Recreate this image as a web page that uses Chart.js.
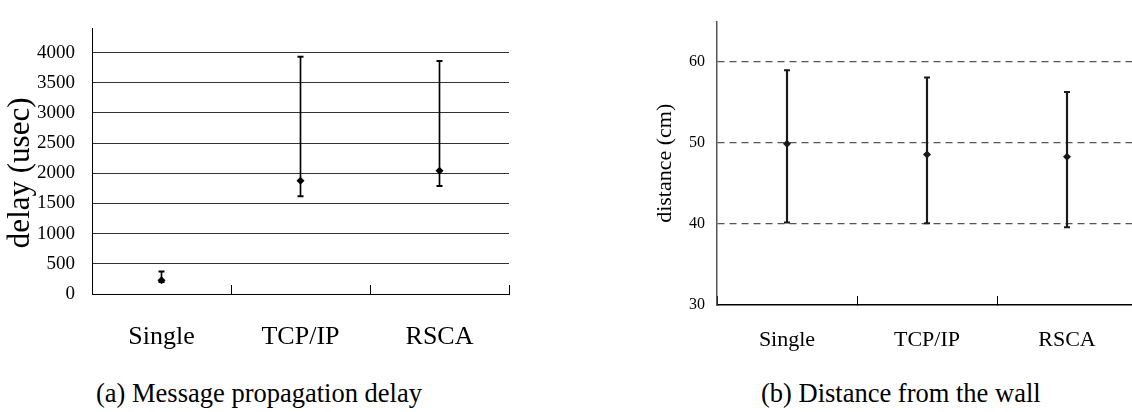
<!DOCTYPE html>
<html lang="en">
  <head>
    <meta charset="UTF-8" />
    <title>delay / distance</title>
    <style>
      body {
        margin: 0;
        width: 1132px;
        height: 412px;
        overflow: hidden;
        background: #fff;
        position: relative;
        font-family: "Liberation Serif", serif;
      }
      .box {
        position: absolute;
        top: 0;
        height: 360px;
      }
      #box_a {
        left: 0;
        width: 560px;
      }
      #box_b {
        left: 560px;
        width: 600px;
      }
      .caption {
        position: absolute;
        top: 380px;
        font-size: 26.5px;
        line-height: 26px;
        white-space: nowrap;
        color: #000;
      }
    </style>
  </head>
  <body>
    <div class="box" id="box_a"><canvas id="chart_a"></canvas></div>
    <div class="box" id="box_b"><canvas id="chart_b"></canvas></div>
    <div class="caption" style="left: 96px">(a) Message propagation delay</div>
    <div class="caption" style="left: 761px">(b) Distance from the wall</div>
  </body>
  <script src="https://cdn.jsdelivr.net/npm/chart.js"></script>
  <script>
    const labels = ["Single", "TCP/IP", "RSCA"];

    // (a) delay (usec)
    const delayMean = [228, 1878, 2043];
    const delayHigh = [371, 3932, 3860];
    const delayLow = [200, 1621, 1791];
    const delayTicks = [0, 500, 1000, 1500, 2000, 2500, 3000, 3500, 4000];

    // (b) distance (cm)
    const distMean = [49.9, 48.6, 48.3];
    const distHigh = [59.0, 58.1, 56.3];
    const distLow = [40.2, 40.1, 39.6];
    const distTicks = [30, 40, 50, 60];

    const serif = "'Liberation Serif', 'Times New Roman', serif";

    const errorSets = (mean, low, high, color, thick) => [
      {
        type: "line",
        data: mean,
        showLine: false,
        pointStyle: "rectRot",
        pointRadius: 4,
        pointBackgroundColor: color,
        pointBorderColor: color,
        pointBorderWidth: 0,
      },
      {
        type: "line",
        data: high,
        showLine: false,
        pointStyle: "line",
        pointRadius: 3,
        pointBorderColor: color,
        pointBorderWidth: 2,
      },
      {
        type: "line",
        data: low,
        showLine: false,
        pointStyle: "line",
        pointRadius: 3,
        pointBorderColor: color,
        pointBorderWidth: 2,
      },
      {
        type: "bar",
        data: low.map((l, i) => [l, high[i]]),
        backgroundColor: color,
        borderWidth: 0,
        barThickness: thick,
      },
    ];

    // (a)
    new Chart(document.getElementById("chart_a"), {
      type: "bar",
      data: {
        labels: labels,
        datasets: errorSets(delayMean, delayLow, delayHigh, "#000", 1),
      },
      options: {
        responsive: true,
        maintainAspectRatio: false,
        animation: false,
        layout: { padding: { top: 10, right: 51, left: 0, bottom: 0 } },
        plugins: { legend: { display: false }, tooltip: { enabled: false } },
        scales: {
          x: {
            offset: true,
            grid: { offset: true, drawOnChartArea: false, drawTicks: true, tickLength: -9, tickColor: "#000" },
            border: { color: "#000", width: 1 },
            ticks: { color: "#000", font: { family: serif, size: 26 }, padding: 37 },
            afterFit: (s) => { s.height = 66; },
          },
          y: {
            min: 0,
            max: 4400,
            ticks: { color: "#000", font: { family: serif, size: 19 }, padding: 17, callback: (v) => String(v) },
            afterBuildTicks: (s) => { s.ticks = delayTicks.map((v) => ({ value: v })); },
            grid: {
              drawTicks: false,
              color: (c) => (c.tick && c.tick.value === 0 ? "rgba(0,0,0,0)" : "#333"),
            },
            border: { color: "#000", width: 1 },
            // trailing spaces push the title a little lower, as in the original
            title: { display: true, text: "delay (usec)   ", color: "#000", font: { family: serif, size: 31 }, padding: { top: 2, bottom: 0 } },
            afterFit: (s) => { s.width = 92; },
          },
        },
      },
    });

    // (b)
    new Chart(document.getElementById("chart_b"), {
      type: "bar",
      data: {
        labels: labels,
        datasets: errorSets(distMean, distLow, distHigh, "#1a1a1a", 1.5),
      },
      options: {
        responsive: true,
        maintainAspectRatio: false,
        animation: false,
        layout: { padding: { top: 7, right: 23, left: 0, bottom: 0 } },
        plugins: { legend: { display: false }, tooltip: { enabled: false } },
        scales: {
          x: {
            offset: true,
            grid: { offset: true, drawOnChartArea: false, drawTicks: true, tickLength: -9, tickColor: "#000" },
            border: { color: "#000", width: 1.5 },
            ticks: { color: "#000", font: { family: serif, size: 22 }, padding: 31 },
            afterFit: (s) => { s.height = 55; },
          },
          y: {
            min: 30,
            max: 65,
            ticks: { color: "#000", font: { family: serif, size: 16 }, padding: 12, callback: (v) => String(v) },
            afterBuildTicks: (s) => { s.ticks = distTicks.map((v) => ({ value: v })); },
            grid: {
              drawTicks: false,
              color: (c) => (c.tick && c.tick.value === 30 ? "rgba(0,0,0,0)" : "#555"),
              lineWidth: 1.2,
            },
            border: { color: "#555", width: 1.5, dash: [7, 5] },
            title: { display: true, text: "distance (cm)", color: "#000", font: { family: serif, size: 22 }, padding: { top: 92, bottom: 0 } },
            afterFit: (s) => { s.width = 157; },
          },
        },
      },
    });
  </script>
</html>
